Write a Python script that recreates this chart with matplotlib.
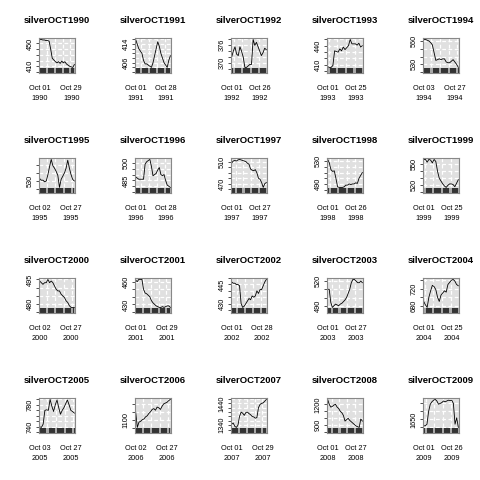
import numpy as np
import pandas as pd
import matplotlib
matplotlib.use("Agg")
import matplotlib.pyplot as plt
from matplotlib.patches import Rectangle

plt.rcParams['font.family'] = ['Liberation Sans', 'DejaVu Sans']

# October silver fixes, one list per year
silver_1990 = [457, 457, 456, 456, 455, 455, 454, 440, 424, 421, 418, 416, 418, 415, 419, 416, 418, 414, 412, 410, 409, 408, 413]
silver_1991 = [416, 414, 412, 411, 410, 407, 405.5, 405.5, 405, 404.5, 404, 406, 409, 412, 415, 413, 410, 408, 406, 405, 404, 407, 409]
silver_1992 = [372, 374, 375.5, 373, 372.5, 375.5, 374, 372, 368.5, 368.5, 369, 369.5, 369.5, 378, 376, 377, 375.5, 374, 372.5, 373.5, 375, 374.5]
silver_1993 = [407, 406, 406, 409, 432, 431, 430, 435, 432, 438, 434, 437, 440, 450, 443, 443, 443, 441, 444, 438, 440]
silver_1994 = [562, 562, 561, 560, 558, 555, 545, 535, 536, 537, 536, 537, 537, 533, 532, 532, 534, 536, 533, 530, 526]
silver_1995 = [533, 531, 531, 529, 530, 538, 548, 557, 549, 546, 542, 537, 522, 532, 536, 540, 546, 556, 546, 538, 532, 530]
silver_1996 = [488, 487, 486, 486, 486, 486, 499, 501, 502, 503, 497, 489, 490, 491, 494, 496, 490, 489, 490, 485, 481, 480, 479]
silver_1997 = [508, 512, 513, 512, 514, 515, 514, 513, 512, 511, 508, 506, 497, 495, 494, 496, 490, 480, 478, 472, 463, 470, 472]
silver_1998 = [533, 527, 515, 512, 513, 500, 485, 484, 484, 484, 485, 488, 488, 490, 489, 490, 490, 492, 491, 500, 505, 510]
silver_1999 = [557, 557, 553, 557, 556, 552, 557, 554, 540, 530, 526, 522, 519, 517, 520, 522, 522, 521, 518, 523, 528]
silver_2000 = [494, 493, 492, 493, 493, 495, 493, 494, 493, 491, 489, 488, 488, 486, 485, 484, 482, 481, 479, 478, 478, 478]
silver_2001 = [462, 460, 463, 463, 463, 450, 445, 444, 442, 440, 435, 432, 430, 428, 427, 426, 426, 427, 426, 427, 428, 428, 426]
silver_2002 = [447, 446, 446, 445, 445, 444, 430, 427, 428, 430, 432, 434, 433, 436, 435, 436, 440, 438, 441, 441, 444, 447, 449]
silver_2003 = [510, 510, 494, 488, 490, 492, 491, 490, 492, 493, 495, 497, 500, 505, 510, 518, 522, 522, 520, 518, 518, 520, 518]
silver_2004 = [690, 682, 676, 700, 715, 728, 725, 718, 700, 690, 705, 710, 715, 712, 730, 735, 740, 742, 738, 730, 727]
silver_2005 = [740, 739, 745, 770, 771, 770, 790, 778, 768, 780, 789, 775, 763, 770, 775, 782, 789, 780, 770, 768, 765]
silver_2006 = [1150, 1052, 1085, 1090, 1100, 1105, 1118, 1125, 1140, 1150, 1165, 1170, 1160, 1180, 1175, 1165, 1185, 1200, 1205, 1210, 1220, 1228]
silver_2007 = [1345, 1350, 1335, 1330, 1340, 1380, 1400, 1395, 1385, 1398, 1400, 1393, 1388, 1380, 1378, 1372, 1375, 1420, 1435, 1440, 1442, 1450, 1458]
silver_2008 = [1270, 1200, 1160, 1170, 1190, 1200, 1160, 1140, 1100, 1080, 1040, 960, 980, 1000, 970, 950, 930, 910, 890, 880, 870, 990, 960]
silver_2009 = [1610, 1610, 1620, 1700, 1745, 1760, 1770, 1775, 1765, 1745, 1750, 1755, 1765, 1760, 1765, 1770, 1768, 1770, 1750, 1620, 1660, 1600]

years = list(range(1990, 2010))
series = [silver_1990, silver_1991, silver_1992, silver_1993, silver_1994,
          silver_1995, silver_1996, silver_1997, silver_1998, silver_1999,
          silver_2000, silver_2001, silver_2002, silver_2003, silver_2004,
          silver_2005, silver_2006, silver_2007, silver_2008, silver_2009]

# second date label on each x axis
last_tick = ["1990-10-29", "1991-10-28", "1992-10-26", "1993-10-25", "1994-10-27",
             "1995-10-27", "1996-10-28", "1997-10-27", "1998-10-26", "1999-10-25",
             "2000-10-27", "2001-10-29", "2002-10-28", "2003-10-27", "2004-10-25",
             "2005-10-27", "2006-10-27", "2007-10-29", "2008-10-27", "2009-10-26"]

# y tick spacing and which ticks carry a label
ytick_step = [10, 2, 2, 10, 10, 10, 5, 10, 10, 10, 5, 10, 5, 10, 20, 10, 50, 20, 100, 50]
ytick_labelled = [[410, 450], [406, 414], [370, 376], [410, 440], [530, 560],
                  [530], [485, 500], [470, 510], [490, 530], [520, 550],
                  [480, 495], [430, 460], [430, 445], [490, 520], [680, 720],
                  [740, 780], [1100], [1340, 1440], [900, 1200], [1650]]

fig = plt.figure(figsize=(4.8, 4.8), dpi=100)
W, H = 480.0, 480.0
strip_h = 0.14

for k, year in enumerate(years):
    r, c = divmod(k, 5)
    vals = np.array(series[k], dtype=float)
    n = len(vals)
    dates = pd.bdate_range(f"{year}-10-01", periods=n)
    idx = np.arange(n)

    left = (39 + 96 * c) / W
    bottom = 1 - (73 + 120 * r) / H
    ax = fig.add_axes([left, bottom, 36 / W, 35 / H])
    ax.set_facecolor('#e0e0e0')

    lo, hi = vals.min(), vals.max()
    rng = hi - lo
    ylo, yhi = lo - 0.2 * rng, hi + 0.05 * rng
    ax.set_xlim(-0.4, n - 0.6)
    ax.set_ylim(ylo, yhi)

    # grid: horizontal at ticks, vertical at week starts
    step = ytick_step[k]
    ticks = np.arange(np.ceil(ylo / step) * step, yhi + 1e-9, step)
    for t in ticks:
        ax.axhline(t, color='white', lw=0.9, ls=(0, (3, 2)), zorder=0.5)
    weeks = dates.isocalendar().week.values
    starts = [i for i in range(1, n) if weeks[i] != weeks[i - 1]]
    for i in starts:
        ax.axvline(i - 0.5, color='white', lw=0.9, ls=(0, (3, 2)), zorder=0.5)

    ax.plot(idx, vals, color='black', lw=0.6, zorder=2)

    # bottom strip with one dark block per week
    tr = ax.get_xaxis_transform()
    ax.add_patch(Rectangle((-0.4, 0), n, strip_h, transform=tr,
                           facecolor='#a8a8a8', edgecolor='none', zorder=3))
    bounds = [0] + starts + [n]
    for a, b in zip(bounds[:-1], bounds[1:]):
        ax.add_patch(Rectangle((a - 0.5 + 0.65, 0), (b - a) - 1.3, strip_h,
                               transform=tr, facecolor='#333333',
                               edgecolor='none', zorder=4))

    ax.set_yticks(ticks)
    ax.set_yticklabels([f"{int(t)}" if int(t) in ytick_labelled[k] else ""
                        for t in ticks], rotation=90, va='center')
    ax.tick_params(axis='y', length=2.5, width=0.6, pad=1.5, labelsize=5.3,
                   color='#333333')

    t2 = pd.Timestamp(last_tick[k])
    xpos = [0, int(np.where(dates == t2)[0][0])]
    ax.set_xticks(xpos)
    ax.set_xticklabels([dates[i].strftime("%b %d\n%Y") for i in xpos])
    ax.tick_params(axis='x', length=0, pad=9, labelsize=5.3)
    for lab in ax.get_xticklabels():
        lab.set_linespacing(1.5)

    for sp in ax.spines.values():
        sp.set_color('#888888')
        sp.set_linewidth(0.8)
        sp.set_zorder(5)

    ax.set_title(f"silverOCT{year}", fontsize=6.8, fontweight='bold', pad=11)

fig.savefig("out.png", dpi=100)
